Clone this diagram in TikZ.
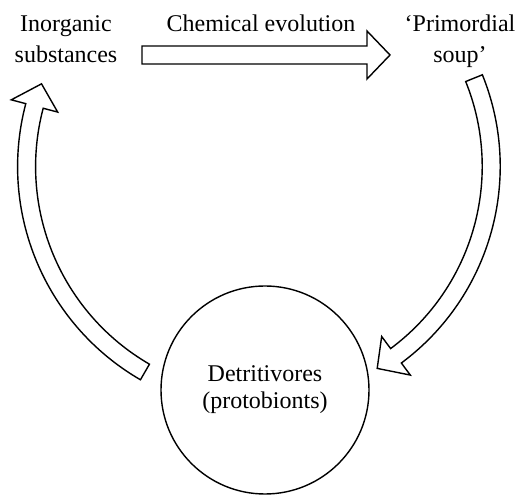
\documentclass[tikz,border=0pt]{standalone}
\usepackage{fontspec}
\setmainfont{Liberation Serif}
\begin{document}
\begin{tikzpicture}[x=1pt,y=1pt,
  outl/.style={draw=black, line width=1.4pt, line join=miter, fill=white},
  lbl/.style={inner sep=0pt, text depth=0pt, anchor=south, font=\fontsize{24}{31}\selectfont}]
\useasboundingbox (0,0) rectangle (522,495);
% labels
\node[lbl, align=center] (inorg) at (66,432) {Inorganic\\substances};
\node[lbl] (chem) at (261,463) {Chemical evolution};
\node[lbl, align=center] (soup) at (460,432) {‘Primordial\\soup’};
\node[circle, draw, line width=1.4pt, minimum size=208pt, inner sep=0pt, align=center,
      font=\fontsize{24}{27}\selectfont] (det) at (265,105) {Detritivores\\(protobionts)};
% straight block arrow
\draw[outl] (142,431) -- (367,431) -- (367,416) -- (390,440) -- (367,464) -- (367,449) -- (142,449) -- cycle;
% right curved block arrow
\begin{scope}[shift={(255.4,328.5)}]
\draw[outl] (22:244.8) arc[start angle=22, end angle=-53.4, radius=244.8pt]
  -- (-53.4:259.8) -- (-58.9:235.8) -- (-53.4:211.8) -- (-53.4:226.8)
  arc[start angle=-53.4, end angle=22, radius=226.8pt] -- cycle;
\end{scope}
% left curved block arrow
\begin{scope}[shift={(264,328.4)}]
\draw[outl] (-120.1:246.4) arc[start angle=-120.1, end angle=-194.8, radius=246.4pt]
  -- (-194.8:261.4) -- (-200.4:237.4) -- (-194.8:213.4) -- (-194.8:228.4)
  arc[start angle=-194.8, end angle=-120.1, radius=228.4pt] -- cycle;
\end{scope}
\end{tikzpicture}
\end{document}
